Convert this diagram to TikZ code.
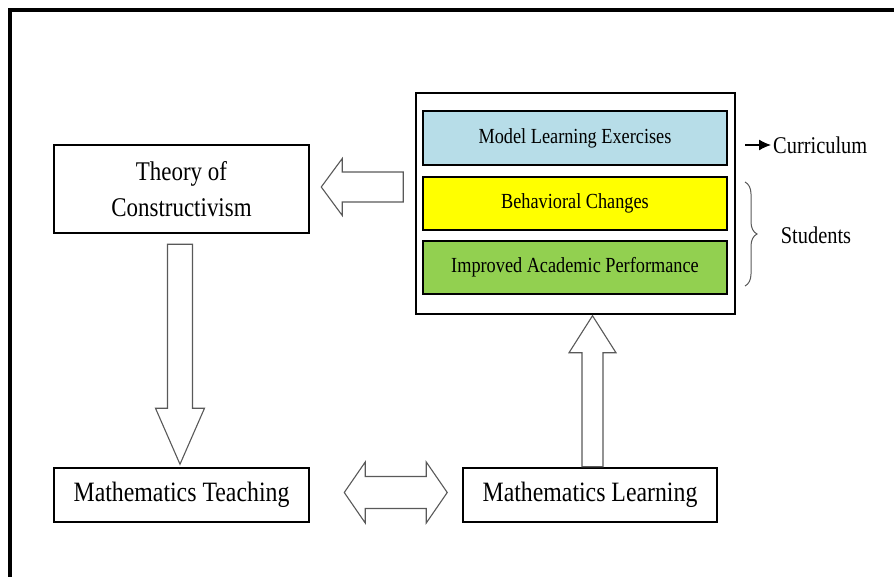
\documentclass[tikz,border=0pt]{standalone}
\usepackage{fontspec}
\setmainfont{Liberation Serif}[FakeStretch=0.85]
\usepackage{xcolor}
\usetikzlibrary{calc,
	positioning,
	decorations.pathreplacing,
	arrows.meta}
\definecolor{exblue}{HTML}{B7DDE8}
\definecolor{exyellow}{HTML}{FFFF00}
\definecolor{exgreen}{HTML}{92D050}

\begin{document}
\begin{tikzpicture}[x=1pt, y=-1pt,
	mainbox/.style={draw, line width=2.5, inner sep=0pt, font=\fontsize{27}{36}\selectfont},
	layerbox/.style={draw, line width=2.5, inner sep=0pt, minimum width=304, font=\fontsize{21.5}{24}\selectfont},
	hollow/.style={draw=black!65, line width=1.1, fill=white, line join=miter}]
	\useasboundingbox (0, 0) rectangle (894, 577);
	\begin{scope}
		\clip (0, 0) rectangle (894, 577);
		\draw[line width=4] (10.3, 600) -- (10.3, 10) -- (900, 10);
	\end{scope}
	% left column
	\node[mainbox, minimum width=255, minimum height=88, align=center] (theory) at (181.5, 189) {Theory of\\Constructivism};
	\node[mainbox, minimum width=255, minimum height=54, font=\fontsize{28}{36}\selectfont] (teach) at (181.5, 495) {Mathematics Teaching};
	\node[mainbox, minimum width=254, minimum height=54, font=\fontsize{28}{36}\selectfont] (learn) at (590, 495) {Mathematics Learning};
	% the three layers
	\node[draw, line width=2, minimum width=319, minimum height=221, inner sep=0pt] (outcome) at (575.5, 203.5) {};
	\node[layerbox, fill=exblue, minimum height=54] (exercise) at (575, 138) {Model Learning Exercises};
	\node[layerbox, fill=exyellow, minimum height=53] (behave) at (575, 203.5) {Behavioral Changes};
	\node[layerbox, fill=exgreen, minimum height=53] (perform) at (575, 267.5) {Improved Academic Performance};
	% side labels
	\node[anchor=west, inner sep=0pt, font=\fontsize{24}{28}\selectfont] (curr) at (773, 145) {Curriculum};
	\coordinate (currtail) at ($(curr.west)+(-28, 0)$);
	\draw[line width=1.3, -{Latex[length=12pt, width=11pt]}, shorten >=2pt] (currtail) -- (curr.west);
	\node[inner sep=0pt, font=\fontsize{24}{28}\selectfont] (stud) at (816, 235) {Students};
	\coordinate (bracetop) at (745, 182);
	\coordinate (bracebot) at (745, 286);
	\draw[black!65, line width=1, decorate, decoration={brace, amplitude=12}] (bracetop) -- (bracebot);
	% block arrows
	\coordinate (lefttip) at ($(theory.east)+(11, -2)$);
	\draw[hollow] (lefttip) -- ++(21, -28.5) -- ++(0, 13.5) -- ++(61, 0) -- ++(0, 30) -- ++(-61, 0) -- ++(0, 13.5) -- cycle;
	\coordinate (downstart) at ($(theory.south)+(-14, 10)$);
	\draw[hollow] (downstart) -- ++(25, 0) -- ++(0, 164) -- ++(12, 0) -- ++(-24.5, 56) -- ++(-24.5, -56) -- ++(12, 0) -- cycle;
	\coordinate (upstart) at ($(learn.north)+(-8, 0)$);
	\draw[hollow] (upstart) -- ++(0, -114) -- ++(-13, 0) -- ++(23.5, -37) -- ++(23.5, 37) -- ++(-13, 0) -- ++(0, 114) -- cycle;
	\coordinate (bothtip) at ($(teach.east)+(34, -2.5)$);
	\draw[hollow] (bothtip) -- ++(21, -30.5) -- ++(0, 14.5) -- ++(61, 0) -- ++(0, -14.5) -- ++(21, 30.5) -- ++(-21, 30.5) -- ++(0, -14.5) -- ++(-61, 0) -- ++(0, 14.5) -- cycle;
\end{tikzpicture}
\end{document}
